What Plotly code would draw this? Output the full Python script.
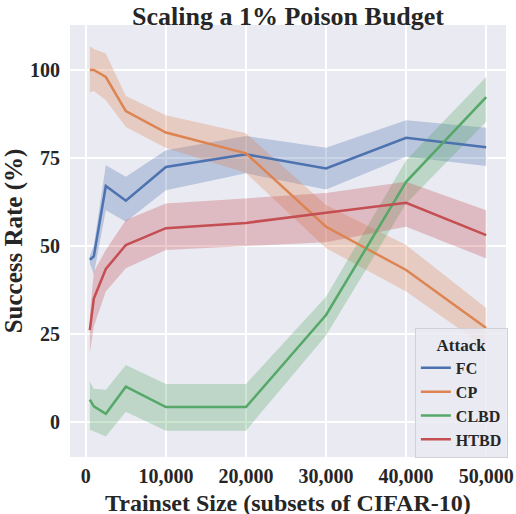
import plotly.graph_objects as go

# trainset sizes
sizes = [500, 1000, 2500, 5000, 10000, 20000, 30000, 40000, 50000]

# mean success rate (%) and band bounds per attack
fc = [46, 47, 67, 62.8, 72.4, 76, 72, 80.7, 78]
fc_hi = [47, 50, 72.9, 69.6, 77.2, 81.2, 77.9, 85.7, 83.6]
fc_lo = [45, 42, 60.1, 56.8, 65.8, 70.6, 66, 75.3, 72.7]

cp = [100, 100, 98, 88.3, 82.2, 76.3, 55.4, 43.1, 26.6]
cp_hi = [106.8, 106, 104.7, 92.6, 87.1, 82, 61.6, 50.2, 32.3]
cp_lo = [93.6, 94, 91.4, 83.8, 77.8, 70.7, 49.3, 37, 21]

clbd = [6.2, 4.3, 2.2, 9.9, 4.1, 4.1, 30.3, 68.2, 92.3]
clbd_hi = [11.4, 9.3, 9, 16.1, 10.7, 10.7, 35.5, 74.3, 98]
clbd_lo = [-2.4, -2.8, -4.3, 2.8, -2.6, -2.6, 24.5, 62, 85.3]

htbd = [26, 35, 43.4, 50.2, 55, 56.5, 59.4, 62.2, 53]
htbd_hi = [30, 42.6, 48.8, 57.3, 62, 63.5, 65, 68.2, 60.1]
htbd_lo = [19.5, 27, 37, 43.6, 48.8, 50, 51, 55.4, 46.4]

x_ticks = [0, 10000, 20000, 30000, 40000, 50000]
x_labels = ["0", "10,000", "20,000", "30,000", "40,000", "50,000"]
y_ticks = [0, 25, 50, 75, 100]

series = [
    ("FC", fc, fc_lo, fc_hi, (76, 114, 176)),
    ("CP", cp, cp_lo, cp_hi, (221, 132, 82)),
    ("CLBD", clbd, clbd_lo, clbd_hi, (85, 168, 104)),
    ("HTBD", htbd, htbd_lo, htbd_hi, (196, 78, 82)),
]

fig = go.Figure()

# shaded bands first so lines sit on top
for name, mean, lo, hi, (r, g, b) in series:
    fig.add_trace(go.Scatter(
        x=sizes + sizes[::-1], y=hi + lo[::-1],
        fill="toself", mode="lines",
        fillcolor=f"rgba({r},{g},{b},0.3)",
        line=dict(color="rgba(255,255,255,0)", width=0),
        hoverinfo="skip", showlegend=False,
    ))

for name, mean, lo, hi, (r, g, b) in series:
    fig.add_trace(go.Scatter(
        x=sizes, y=mean, name=name, mode="lines",
        line=dict(color=f"rgb({r},{g},{b})", width=2.5),
    ))

font_family = "Liberation Serif, Times New Roman, serif"

fig.update_layout(
    width=516, height=514,
    margin=dict(l=70, r=9, t=25, b=57),
    paper_bgcolor="white",
    plot_bgcolor="#eaeaf2",
    font=dict(family=font_family, color="#262626", size=16, weight="bold"),
    title=dict(
        text="Scaling a 1% Poison Budget",
        x=0.5, xref="paper", y=0.97, yanchor="middle",
        font=dict(size=26, family=font_family, weight="bold", color="#262626"),
    ),
    xaxis=dict(
        range=[-1975, 52475],
        tickvals=x_ticks, ticktext=x_labels,
        showgrid=True, gridcolor="white", gridwidth=1.5,
        zeroline=False, showline=False, ticks="",
        automargin=False, ticklabelstandoff=5, ticklabeloverflow="allow",
        tickfont=dict(size=20, weight="bold"),
    ),
    yaxis=dict(
        range=[-10.1, 112.8],
        tickvals=y_ticks,
        showgrid=True, gridcolor="white", gridwidth=1.5,
        zeroline=False, showline=False, ticks="",
        automargin=False, ticklabelstandoff=9,
        tickfont=dict(size=20, weight="bold"),
        title=dict(text="Success Rate (%)", standoff=0,
                   font=dict(size=25, weight="bold")),
    ),
    legend=dict(
        x=1.002, xanchor="right", y=-0.002, yanchor="bottom",
        bgcolor="rgba(234,234,242,0.85)",
        bordercolor="#d0d0d8", borderwidth=1,
        title=dict(text="Attack", side="top center",
                   font=dict(size=17, weight="bold")),
        font=dict(size=16, weight="bold"),
        itemwidth=30,
    ),
)

# x-axis title placed as an annotation so it sits just under the tick labels
fig.add_annotation(
    text="Trainset Size (subsets of CIFAR-10)",
    xref="paper", yref="paper", x=0.5, y=-0.106,
    xanchor="center", yanchor="middle", showarrow=False,
    font=dict(size=24, weight="bold", family=font_family, color="#262626"),
)

# drop the browser's default body margin so the figure fills the window
fig.write_html("out.html", config={"displayModeBar": False},
               post_script="document.body.style.margin = '0';")
